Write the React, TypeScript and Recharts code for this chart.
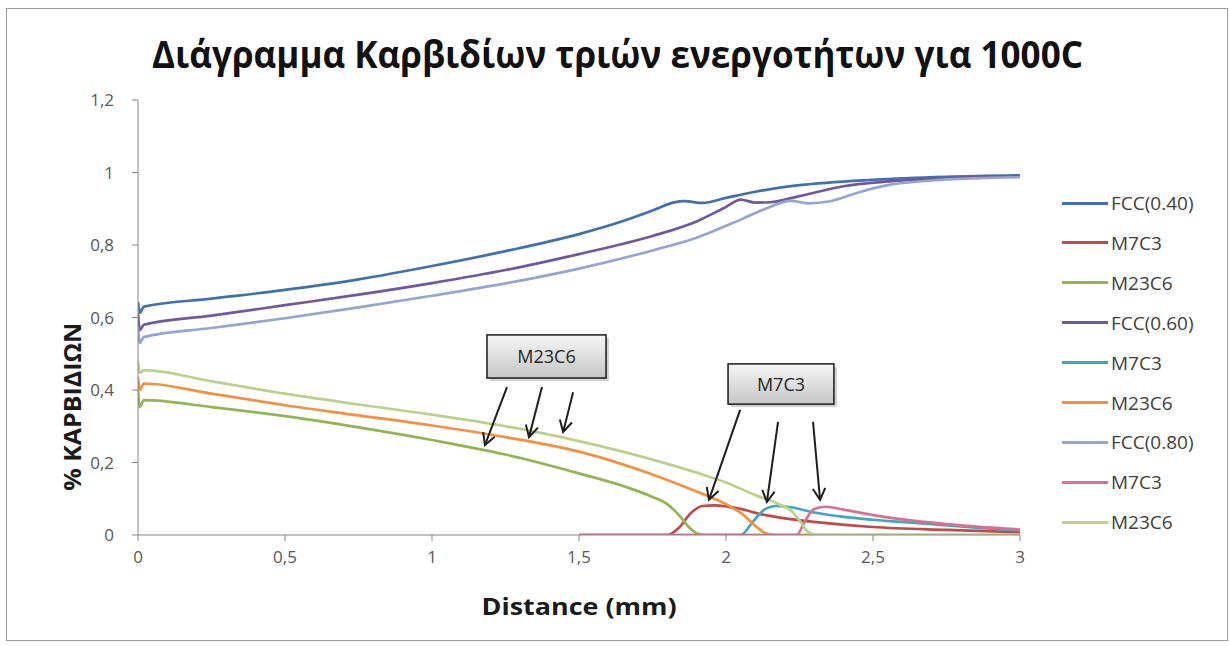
import React from 'react';
import { LineChart, Line, XAxis, YAxis, ReferenceArea, ReferenceLine } from 'recharts';

type Pt = [number, number];

const TITLE = 'Διάγραμμα Καρβιδίων τριών ενεργοτήτων για 1000C';
const X_LABEL = 'Distance (mm)';
const Y_LABEL = '% ΚΑΡΒΙΔΙΩΝ';
const X_TICKS = [0, 0.5, 1, 1.5, 2, 2.5, 3];
const Y_TICKS = [0, 0.2, 0.4, 0.6, 0.8, 1, 1.2];

const FCC_040: Pt[] = [
  [0, 0.643], [0.006, 0.613], [0.02, 0.63], [0.25, 0.652], [0.5, 0.676], [0.75, 0.705], [1.0, 0.742],
  [1.25, 0.783], [1.5, 0.83], [1.65, 0.866], [1.75, 0.895], [1.82, 0.917], [1.86, 0.921], [1.92, 0.916],
  [2.0, 0.93], [2.1, 0.947], [2.25, 0.965], [2.5, 0.98], [2.75, 0.988], [3.0, 0.992],
];
const M7C3_040: Pt[] = [
  [1.5, 0], [1.8, 0], [1.84, 0.02], [1.88, 0.06], [1.92, 0.08], [1.96, 0.082], [2.05, 0.072], [2.12, 0.057],
  [2.2, 0.046], [2.35, 0.032], [2.5, 0.022], [2.75, 0.014], [3.0, 0.008],
];
const M23C6_040: Pt[] = [
  [0, 0.4], [0.006, 0.353], [0.02, 0.372], [0.25, 0.353], [0.5, 0.328], [0.75, 0.297], [1.0, 0.262],
  [1.25, 0.222], [1.5, 0.17], [1.65, 0.135], [1.75, 0.105], [1.8, 0.085], [1.84, 0.055], [1.87, 0.025],
  [1.9, 0.005], [1.93, 0], [3.0, 0],
];
const FCC_060: Pt[] = [
  [0, 0.612], [0.006, 0.565], [0.02, 0.58], [0.25, 0.605], [0.5, 0.634], [0.75, 0.663], [1.0, 0.695],
  [1.25, 0.731], [1.5, 0.775], [1.75, 0.825], [1.9, 0.865], [2.0, 0.905], [2.05, 0.925], [2.1, 0.917],
  [2.15, 0.918], [2.25, 0.935], [2.4, 0.962], [2.6, 0.978], [2.8, 0.986], [3.0, 0.99],
];
const M7C3_060: Pt[] = [
  [1.5, 0], [2.05, 0], [2.09, 0.035], [2.13, 0.07], [2.17, 0.08], [2.21, 0.078], [2.3, 0.062], [2.4, 0.05],
  [2.5, 0.042], [2.7, 0.03], [2.85, 0.02], [3.0, 0.012],
];
const M23C6_060: Pt[] = [
  [0, 0.436], [0.006, 0.4], [0.02, 0.418], [0.25, 0.39], [0.5, 0.358], [0.75, 0.33], [1.0, 0.302],
  [1.25, 0.27], [1.5, 0.23], [1.75, 0.167], [1.9, 0.12], [2.0, 0.085], [2.06, 0.055], [2.1, 0.025],
  [2.14, 0.003], [2.17, 0], [3.0, 0],
];
const FCC_080: Pt[] = [
  [0, 0.574], [0.006, 0.53], [0.02, 0.546], [0.25, 0.571], [0.5, 0.598], [0.75, 0.628], [1.0, 0.66],
  [1.25, 0.694], [1.5, 0.735], [1.75, 0.785], [1.9, 0.82], [2.05, 0.87], [2.15, 0.905], [2.22, 0.922],
  [2.28, 0.915], [2.35, 0.92], [2.45, 0.945], [2.55, 0.965], [2.7, 0.978], [2.85, 0.984], [3.0, 0.987],
];
const M7C3_080: Pt[] = [
  [1.5, 0], [2.24, 0], [2.27, 0.04], [2.3, 0.072], [2.34, 0.078], [2.4, 0.07], [2.5, 0.055], [2.6, 0.043],
  [2.75, 0.03], [3.0, 0.015],
];
const M23C6_080: Pt[] = [
  [0, 0.48], [0.006, 0.447], [0.02, 0.455], [0.25, 0.424], [0.5, 0.39], [0.75, 0.36], [1.0, 0.332],
  [1.25, 0.3], [1.5, 0.259], [1.75, 0.208], [1.9, 0.172], [2.0, 0.145], [2.1, 0.11], [2.18, 0.085],
  [2.22, 0.068], [2.25, 0.04], [2.28, 0.008], [2.31, 0], [3.0, 0],
];

const SERIES = [
  { name: 'FCC(0.40)', color: '#4170AE', points: FCC_040 },
  { name: 'M7C3', color: '#BE4B48', points: M7C3_040 },
  { name: 'M23C6', color: '#93B551', points: M23C6_040 },
  { name: 'FCC(0.60)', color: '#7257A0', points: FCC_060 },
  { name: 'M7C3', color: '#3FA7C3', points: M7C3_060 },
  { name: 'M23C6', color: '#F29140', points: M23C6_060 },
  { name: 'FCC(0.80)', color: '#93A6D2', points: FCC_080 },
  { name: 'M7C3', color: '#DB6F8F', points: M7C3_080 },
  { name: 'M23C6', color: '#BBD088', points: M23C6_080 },
];

const BOXES = [
  { text: 'M23C6', x1: 1.187, x2: 1.592, y1: 0.433, y2: 0.552 },
  { text: 'M7C3', x1: 2.007, x2: 2.367, y1: 0.361, y2: 0.472 },
];

const ARROWS = [
  { fx: 1.255, fy: 0.408, tx: 1.18, ty: 0.248 },
  { fx: 1.374, fy: 0.408, tx: 1.33, ty: 0.27 },
  { fx: 1.48, fy: 0.394, tx: 1.446, ty: 0.284 },
  { fx: 2.048, fy: 0.345, tx: 1.942, ty: 0.097 },
  { fx: 2.177, fy: 0.312, tx: 2.139, ty: 0.091 },
  { fx: 2.296, fy: 0.312, tx: 2.32, ty: 0.097 },
];

const FONT = '"Open Sans", "Noto Sans", sans-serif';
const fmt = (v: number) => String(v).replace('.', ',');

const Arrow = (props: any) => {
  const { x1, y1, x2, y2 } = props;
  const ang = Math.atan2(y2 - y1, x2 - x1);
  const L = 13;
  const W = 0.5;
  const ax = x2 - L * Math.cos(ang - W);
  const ay = y2 - L * Math.sin(ang - W);
  const bx = x2 - L * Math.cos(ang + W);
  const by = y2 - L * Math.sin(ang + W);
  return (
    <g>
      <line x1={x1} y1={y1} x2={x2} y2={y2} stroke="#1e1e1e" strokeWidth={2} />
      <polyline points={`${ax},${ay} ${x2},${y2} ${bx},${by}`} fill="none" stroke="#1e1e1e" strokeWidth={2} />
    </g>
  );
};

const makeBox = (text: string, id: string) => (props: any) => {
  const { x, y, width, height } = props;
  return (
    <g>
      <defs>
        <linearGradient id={id} x1="0" y1="0" x2="0" y2="1">
          <stop offset="0" stopColor="#f5f5f5" />
          <stop offset="1" stopColor="#c6c6c6" />
        </linearGradient>
      </defs>
      <rect x={x + 3} y={y + 3} width={width} height={height} fill="#000" opacity={0.18} />
      <rect x={x} y={y} width={width} height={height} fill={`url(#${id})`} stroke="#1a1a1a" strokeWidth={1.5} />
      <text x={x + width / 2} y={y + height / 2} textAnchor="middle" dominantBaseline="central"
        fontSize={18} fill="#262626" fontFamily={FONT}>{text}</text>
    </g>
  );
};

const YLabel = (props: any) => {
  const vb = props.viewBox || { x: 0, y: 0, width: 0, height: 0 };
  const cx = vb.x + 65;
  const cy = vb.y + vb.height * 0.705;
  return (
    <text x={cx} y={cy} transform={`rotate(-90 ${cx} ${cy})`} textAnchor="middle" dominantBaseline="central"
      fontSize={24} fontWeight="bold" fill="#1a1a1a" fontFamily={FONT}
      textLength={168} lengthAdjust="spacingAndGlyphs">{Y_LABEL}</text>
  );
};

const XLabel = (props: any) => {
  const vb = props.viewBox || { x: 0, y: 0, width: 0, height: 0 };
  return (
    <text x={vb.x + vb.width / 2} y={vb.y + 70} textAnchor="middle" dominantBaseline="central"
      fontSize={24} fontWeight="bold" fill="#1a1a1a" fontFamily={FONT}
      textLength={195} lengthAdjust="spacingAndGlyphs">{X_LABEL}</text>
  );
};

export default function App() {
  const W = 1220;
  const H = 631;
  return (
    <div style={{ position: 'absolute', left: 6, top: 8, width: W, height: H, border: '1px solid #9c9c9c', background: '#fff' }}>
      <svg width={W} height={80} style={{ position: 'absolute', left: 0, top: 0 }}>
        <text x={610.5} y={59} textAnchor="middle" fontSize={38} fontWeight="bold" fill="#111"
          fontFamily={FONT} textLength={931} lengthAdjust="spacingAndGlyphs">{TITLE}</text>
      </svg>
      <LineChart width={W} height={H} margin={{ top: 91, right: 207, bottom: 25, left: 0 }}
        style={{ position: 'absolute', left: 0, top: 0 }}>
        <XAxis type="number" dataKey="x" domain={[0, 3]} ticks={X_TICKS} tickFormatter={fmt}
          stroke="#868686" tickSize={6} tickMargin={10} height={80} allowDataOverflow
          tick={{ fontSize: 17, fill: '#595959', fontFamily: FONT }} label={<XLabel />} />
        <YAxis type="number" domain={[0, 1.2]} ticks={Y_TICKS} tickFormatter={fmt}
          stroke="#868686" tickSize={6} tickMargin={18} width={131} allowDataOverflow
          tick={{ fontSize: 17, fill: '#595959', fontFamily: FONT }} label={<YLabel />} />
        {SERIES.map((s, i) => (
          <Line key={i} name={s.name} data={s.points.map(([x, y]) => ({ x, y }))} dataKey="y"
            type="monotone" stroke={s.color} strokeWidth={2.7} dot={false} activeDot={false}
            isAnimationActive={false} />
        ))}
        {ARROWS.map((a, i) => (
          <ReferenceLine key={`a${i}`} segment={[{ x: a.fx, y: a.fy }, { x: a.tx, y: a.ty }]} shape={Arrow} />
        ))}
        {BOXES.map((b, i) => (
          <ReferenceArea key={`b${i}`} x1={b.x1} x2={b.x2} y1={b.y1} y2={b.y2} shape={makeBox(b.text, `grad${i}`)} />
        ))}
      </LineChart>
      <div style={{ position: 'absolute', left: 1055, top: 0 }}>
        {SERIES.map((s, i) => (
          <div key={i} style={{ position: 'absolute', top: 194 + 39.9 * i - 12, left: 0, height: 24, display: 'flex', alignItems: 'center', whiteSpace: 'nowrap' }}>
            <div style={{ width: 46, height: 3, background: s.color }} />
            <span style={{ marginLeft: 3, fontSize: 19, color: '#404040', fontFamily: FONT }}>{s.name}</span>
          </div>
        ))}
      </div>
    </div>
  );
}
